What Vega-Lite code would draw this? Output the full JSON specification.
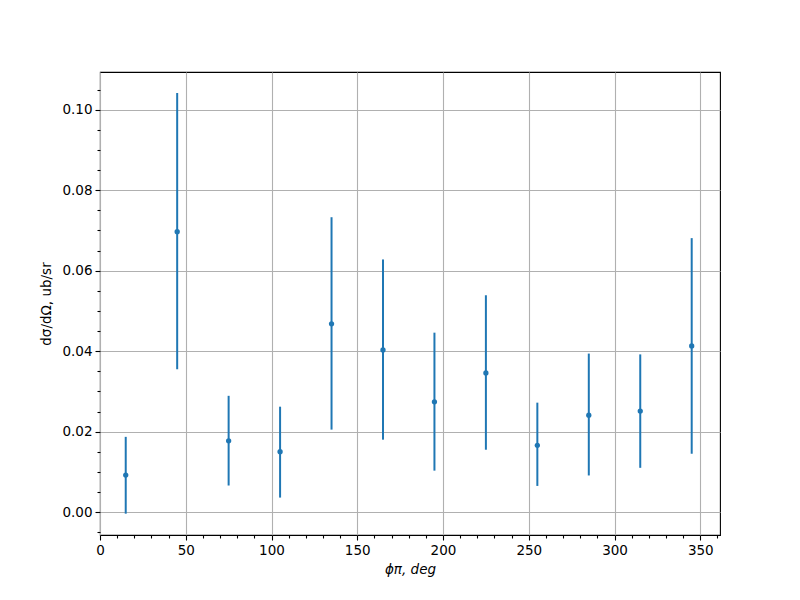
{
  "$schema": "https://vega.github.io/schema/vega-lite/v6.json",
  "width": 620,
  "height": 463,
  "autosize": {"type": "none"},
  "padding": {"left": 100, "top": 72, "right": 80, "bottom": 65},
  "background": "white",
  "config": {
    "view": {"stroke": "black", "strokeWidth": 1.1},
    "axis": {
      "domain": false,
      "labelFont": "DejaVu Sans",
      "labelFontSize": 13.5,
      "labelColor": "black",
      "labelOverlap": false,
      "labelFlush": false,
      "titleFont": "DejaVu Sans",
      "titleFontSize": 13.5,
      "titleFontWeight": "normal",
      "titleColor": "black",
      "tickColor": "black",
      "tickWidth": 1.1,
      "tickCount": 200,
      "gridColor": "#b0b0b0",
      "gridWidth": 1.1
    }
  },
  "data": {
    "values": [
      {"phi": 15, "val": 0.0092, "lo": -0.0004, "hi": 0.0187},
      {"phi": 45, "val": 0.0697, "lo": 0.0355, "hi": 0.1042},
      {"phi": 75, "val": 0.0177, "lo": 0.0066, "hi": 0.0289},
      {"phi": 105, "val": 0.0150, "lo": 0.0036, "hi": 0.0262},
      {"phi": 135, "val": 0.0468, "lo": 0.0205, "hi": 0.0733},
      {"phi": 165, "val": 0.0403, "lo": 0.0180, "hi": 0.0628},
      {"phi": 195, "val": 0.0274, "lo": 0.0103, "hi": 0.0446},
      {"phi": 225, "val": 0.0346, "lo": 0.0155, "hi": 0.0539},
      {"phi": 255, "val": 0.0166, "lo": 0.0065, "hi": 0.0272},
      {"phi": 285, "val": 0.0241, "lo": 0.0091, "hi": 0.0394},
      {"phi": 315, "val": 0.0251, "lo": 0.0110, "hi": 0.0392},
      {"phi": 345, "val": 0.0413, "lo": 0.0145, "hi": 0.0681}
    ]
  },
  "layer": [
    {
      "mark": {"type": "rule", "color": "#1f77b4", "strokeWidth": 2},
      "encoding": {
        "x": {
          "field": "phi",
          "type": "quantitative",
          "scale": {"domain": [0, 361.5], "nice": false, "zero": false},
          "axis": {
            "title": "ϕπ, deg",
            "titleFontStyle": "italic",
            "titlePadding": 6,
            "tickCount": 200,
            "values": [0,10,20,30,40,50,60,70,80,90,100,110,120,130,140,150,160,170,180,190,200,210,220,230,240,250,260,270,280,290,300,310,320,330,340,350,360],
            "format": "d",
            "labelExpr": "datum.value % 50 === 0 ? datum.label : ''",
            "labelPadding": 3,
            "tickSize": {"condition": {"test": "datum.value % 50 === 0", "value": 5}, "value": 3},
            "gridOpacity": {"condition": {"test": "datum.value % 50 === 0", "value": 1}, "value": 0}
          }
        },
        "y": {
          "field": "lo",
          "type": "quantitative",
          "scale": {"domain": [-0.0057, 0.1094], "nice": false, "zero": false},
          "axis": {
            "title": "dσ/dΩ, ub/sr",
            "titlePadding": 8,
            "tickCount": 200,
            "values": [-0.005,0,0.005,0.01,0.015,0.02,0.025,0.03,0.035,0.04,0.045,0.05,0.055,0.06,0.065,0.07,0.075,0.08,0.085,0.09,0.095,0.1,0.105],
            "format": ".2f",
            "labelExpr": "abs(datum.value*50 - round(datum.value*50)) < 1e-6 ? datum.label : ''",
            "labelPadding": 3,
            "tickSize": {"condition": {"test": "abs(datum.value*50 - round(datum.value*50)) < 1e-6", "value": 5}, "value": 3},
            "gridOpacity": {"condition": {"test": "abs(datum.value*50 - round(datum.value*50)) < 1e-6", "value": 1}, "value": 0}
          }
        },
        "y2": {"field": "hi"}
      }
    },
    {
      "mark": {"type": "point", "filled": true, "opacity": 1, "size": 28, "color": "#1f77b4"},
      "encoding": {
        "x": {"field": "phi", "type": "quantitative"},
        "y": {"field": "val", "type": "quantitative"}
      }
    }
  ]
}
